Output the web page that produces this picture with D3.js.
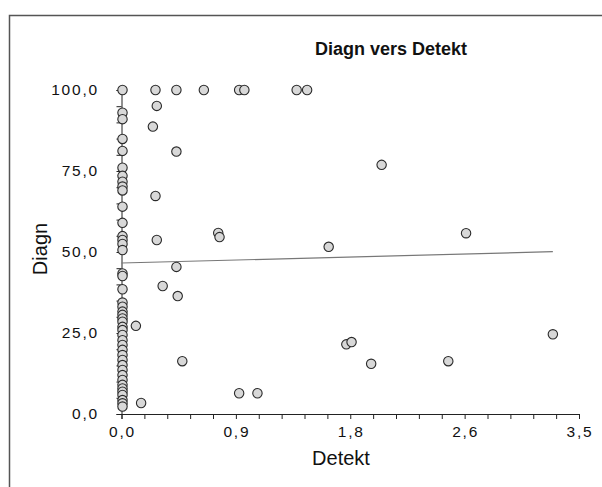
<!DOCTYPE html>
<html>
<head>
<meta charset="utf-8">
<script src="https://cdn.jsdelivr.net/npm/d3@7"></script>
<style>
  body { margin: 0; background: #fff; }
  svg { font-family: "Liberation Sans", Arial, sans-serif; }
  .tick-label { font-size: 15.5px; letter-spacing: 1.8px; fill: #111; }
</style>
</head>
<body>
<script>
// detekt values (x) and diagn values (y), one pair per point
var detekt = [
    0, 0, 0, 0, 0, 0, 0, 0, 0, 0, 0, 0, 0, 0, 0, 0,
    0, 0, 0, 0, 0, 0, 0, 0, 0, 0, 0, 0, 0, 0, 0, 0, 0, 0, 0, 0, 0, 0, 0, 0, 0, 0, 0, 0,
    0.26, 0.42, 0.63, 0.90, 0.94, 1.34, 1.42,
    0.27, 0.24, 0.42, 0.26, 0.27, 0.315, 0.42, 0.43, 0.11, 0.465, 0.15,
    0.90, 1.04, 0.74, 0.75, 1.99, 1.585, 2.636, 1.72, 1.76, 1.91, 2.50, 3.30
];
var diagn = [
    100, 93.0, 91.0, 84.9, 81.2, 76.0, 73.5, 71.7, 70.2, 69.0, 64.0, 59.0, 54.9, 53.7, 52.5, 50.6,
    43.4, 42.6, 38.5, 34.4, 33.1, 31.6, 30.6, 29.5, 28.5, 26.9, 25.9, 24.4, 22.8, 21.3, 19.8,
    18.2, 16.7, 15.1, 13.6, 12.0, 10.5, 9.0, 7.9, 6.9, 5.9, 4.3, 3.3, 2.3,
    100, 100, 100, 100, 100, 100, 100,
    95.1, 88.7, 81.0, 67.3, 53.7, 39.5, 45.4, 36.4, 27.2, 16.3, 3.4,
    6.4, 6.4, 55.9, 54.6, 76.9, 51.6, 55.8, 21.5, 22.2, 15.5, 16.3, 24.6
];

// fit line ends
var fitX = [0, 3.3];
var fitY = [46.6, 50.1];

var xTicks = d3.range(0, 21).map(function(i){ return i * 0.175; });
var yTicks = d3.range(0, 21).map(function(i){ return i * 5; });
var xLabels = [0, 0.875, 1.75, 2.625, 3.5];
var yLabels = [0, 25, 50, 75, 100];

var width = 602, height = 487;
var x = d3.scaleLinear().domain([0, 3.5]).range([121.5, 579]);
var y = d3.scaleLinear().domain([0, 100]).range([414, 90]);
var fmt = function(d){ return d3.format(".1f")(d).replace(".", ","); };

var svg = d3.select("body").append("svg")
    .attr("width", width)
    .attr("height", height);

// outer frame (runs off the right and bottom)
svg.append("path")
    .attr("d", "M9.5," + height + "V15.5H" + width)
    .attr("fill", "none")
    .attr("stroke", "#555")
    .attr("stroke-width", 1.5);

svg.append("text")
    .attr("x", 391)
    .attr("y", 55)
    .attr("text-anchor", "middle")
    .style("font-size", "18px")
    .style("font-weight", "bold")
    .style("fill", "#111")
    .text("Diagn vers Detekt");

// x axis
var xAxis = svg.append("g")
    .attr("transform", "translate(0," + y(0) + ")")
    .call(d3.axisBottom(x).tickValues(xTicks).tickSize(5).tickFormat(""));
xAxis.select(".domain").attr("stroke", "#222");
xAxis.selectAll(".tick line").attr("stroke", "#222");

svg.append("g").selectAll("text")
    .data(xLabels)
    .enter()
    .append("text")
    .attr("class", "tick-label")
    .attr("x", function(d){ return x(d) + 1; })
    .attr("y", y(0) + 23)
    .attr("text-anchor", "middle")
    .text(fmt);

// y axis
var yAxis = svg.append("g")
    .attr("transform", "translate(" + x(0) + ",0)")
    .call(d3.axisLeft(y).tickValues(yTicks).tickSize(5).tickFormat(""));
yAxis.select(".domain").attr("stroke", "#222");
yAxis.selectAll(".tick line").attr("stroke", "#222");

svg.append("g").selectAll("text")
    .data(yLabels)
    .enter()
    .append("text")
    .attr("class", "tick-label")
    .attr("x", 99)
    .attr("y", function(d){ return y(d) + 5; })
    .attr("text-anchor", "end")
    .text(fmt);

svg.append("text")
    .attr("x", 341)
    .attr("y", 465)
    .attr("text-anchor", "middle")
    .style("font-size", "20px")
    .style("fill", "#111")
    .text("Detekt");

svg.append("text")
    .attr("transform", "translate(47,249) rotate(-90)")
    .attr("text-anchor", "middle")
    .style("font-size", "20px")
    .style("fill", "#111")
    .text("Diagn");

// fit line
svg.append("line")
    .attr("x1", x(fitX[0]))
    .attr("y1", y(fitY[0]))
    .attr("x2", x(fitX[1]))
    .attr("y2", y(fitY[1]))
    .attr("stroke", "#777")
    .attr("stroke-width", 1.2);

svg.append("g").selectAll("circle")
    .data(d3.range(detekt.length))
    .enter()
    .append("circle")
    .attr("cx", function(i){ return x(detekt[i]) + (detekt[i] === 0 ? 1 : 0); })
    .attr("cy", function(i){ return y(diagn[i]); })
    .attr("r", 4.7)
    .attr("fill", "#d8d8d8")
    .attr("stroke", "#2a2a2a")
    .attr("stroke-width", 1.1);
</script>
</body>
</html>
